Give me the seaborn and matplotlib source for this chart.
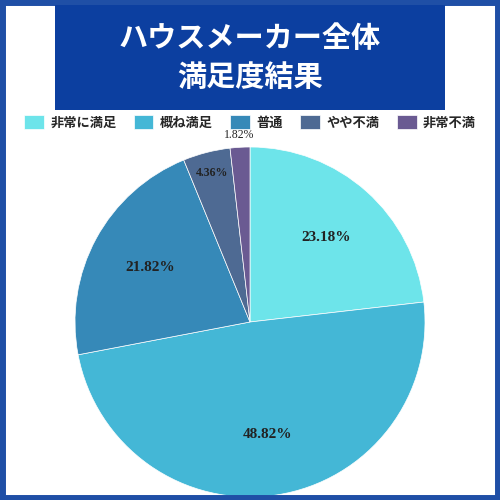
import matplotlib
matplotlib.use("Agg")
import matplotlib.pyplot as plt
import seaborn as sns
import numpy as np
from matplotlib.patches import Rectangle

sns.set_style("white")
plt.rcParams['font.family'] = ['Noto Sans CJK JP', 'DejaVu Sans']

categories = ["非常に満足", "概ね満足", "普通", "やや不満", "非常不満"]
values = [23.18, 48.82, 21.82, 4.36, 1.82]
colors = ["#6DE4EA", "#44B7D6", "#3689B8", "#4E6A93", "#6A5A92"]
title = "ハウスメーカー全体\n満足度結果"

fig = plt.figure(figsize=(5, 5), dpi=100)
fig.patch.set_facecolor("white")
fig.patches.append(Rectangle((0.004, 0.004), 0.992, 0.992, transform=fig.transFigure,
                             fill=False, edgecolor="#1F4FA6", linewidth=5))
fig.patches.append(Rectangle((0.11, 0.78), 0.78, 0.21, transform=fig.transFigure,
                             facecolor="#0C3FA0", edgecolor="none"))
fig.text(0.5, 0.885, title, ha="center", va="center", color="white",
         fontsize=21, fontweight="bold", linespacing=1.35)

ax = fig.add_axes([0.15, 0.006, 0.7, 0.7])
wedges, texts = ax.pie(values, colors=colors, startangle=90, counterclock=False,
                       wedgeprops=dict(linewidth=0.5, edgecolor="white"))
ax.set_xlim(-1.0, 1.0)
ax.set_ylim(-1.0, 1.0)
for w, v in zip(wedges, values):
    ang = np.deg2rad((w.theta1 + w.theta2) / 2)
    d = 0.65 if v > 10 else (0.88 if v > 3 else 1.07)
    ax.text(d * np.cos(ang), d * np.sin(ang), f"{v:.2f}%", ha="center", va="center",
            fontsize=11 if v > 10 else 8.5, family="Liberation Serif",
            fontweight="bold" if v > 3 else "normal", color="#222222")
ax.set_aspect("equal")

fig.legend(wedges, categories, loc="center", bbox_to_anchor=(0.5, 0.755), ncol=5,
           frameon=False, prop=dict(size=9.5, weight="bold"), handlelength=1.5,
           handleheight=1.2, columnspacing=1.3, handletextpad=0.5)
fig.savefig("out.png", dpi=100)
